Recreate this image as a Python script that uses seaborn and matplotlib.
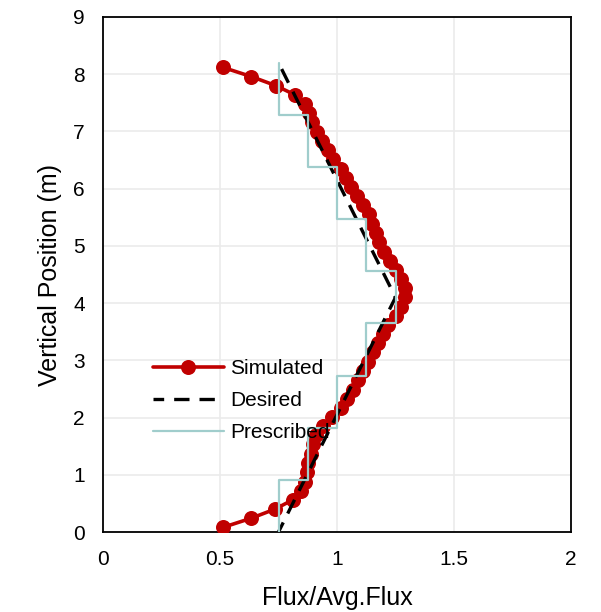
import matplotlib
matplotlib.use("Agg")
import matplotlib.pyplot as plt
import seaborn as sns
import pandas as pd

# ---- data ----
sim_y = [0.08, 0.24, 0.40, 0.56, 0.72, 0.88, 1.05, 1.21, 1.37, 1.53, 1.69, 1.85,
         2.01, 2.17, 2.33, 2.49, 2.65, 2.81, 2.97, 3.14, 3.30, 3.46, 3.62, 3.78,
         3.94, 4.10, 4.26, 4.42, 4.58, 4.74, 4.90, 5.07, 5.23, 5.39, 5.55, 5.71,
         5.87, 6.03, 6.19, 6.35, 6.51, 6.67, 6.83, 6.99, 7.16, 7.32, 7.48, 7.64,
         7.80, 7.96, 8.12]
sim_x = [0.512, 0.633, 0.735, 0.810, 0.848, 0.865, 0.872, 0.878, 0.888, 0.898, 0.912, 0.940,
         0.980, 1.015, 1.042, 1.068, 1.090, 1.110, 1.132, 1.155, 1.175, 1.195, 1.218, 1.250,
         1.275, 1.290, 1.290, 1.275, 1.250, 1.225, 1.200, 1.180, 1.165, 1.150, 1.135, 1.112,
         1.085, 1.060, 1.040, 1.015, 0.985, 0.960, 0.935, 0.915, 0.895, 0.880, 0.865, 0.820,
         0.739, 0.633, 0.512]

des_y = [0.0, 4.1, 8.2]
des_x = [0.75, 1.25, 0.75]

pres_bounds = [0.0, 0.911, 1.822, 2.733, 3.644, 4.556, 5.467, 6.378, 7.289, 8.2]
pres_levels = [0.75, 0.875, 1.0, 1.125, 1.25, 1.125, 1.0, 0.875, 0.75]

xticks = [0, 0.5, 1, 1.5, 2]
xticklabels = ["0", "0.5", "1", "1.5", "2"]
yticks = [0, 1, 2, 3, 4, 5, 6, 7, 8, 9]

# build step path for prescribed profile
px, py = [], []
for i, lv in enumerate(pres_levels):
    px += [lv, lv]
    py += [pres_bounds[i], pres_bounds[i + 1]]
df_sim = pd.DataFrame({"x": sim_x, "y": sim_y})
df_des = pd.DataFrame({"x": des_x, "y": des_y})
df_pre = pd.DataFrame({"x": px, "y": py})

sns.set_theme(style="white")
plt.rcParams["font.family"] = ["Liberation Sans", "DejaVu Sans"]

fig = plt.figure(figsize=(6.01, 6.12), dpi=100)
ax = fig.add_axes([103 / 601, 80 / 612, 468 / 601, 515 / 612])

RED = "#C00000"
TEAL = "#A0CDCC"

sns.lineplot(data=df_sim, x="x", y="y", sort=False, estimator=None, ax=ax,
             color=RED, lw=2.6, marker="o", markersize=10.8, markeredgewidth=0,
             label="Simulated", zorder=3)
sns.lineplot(data=df_des, x="x", y="y", sort=False, estimator=None, ax=ax,
             color="black", lw=2.4, linestyle=(9, (4.6, 3.0)),
             label="Desired", zorder=4)
sns.lineplot(data=df_pre, x="x", y="y", sort=False, estimator=None, ax=ax,
             color=TEAL, lw=1.6, label="Prescribed", zorder=5)

ax.set_xlim(0, 2)
ax.set_ylim(0, 9)
ax.set_xticks(xticks)
ax.set_xticklabels(xticklabels)
ax.set_yticks(yticks)
ax.grid(True, color="#EBEBEB", lw=1.2)
ax.set_axisbelow(True)
for s in ax.spines.values():
    s.set_color("black")
    s.set_linewidth(1.3)
ax.tick_params(axis="both", length=0, labelsize=15, colors="black", pad=13)
ax.set_xlabel("Flux/Avg.Flux", fontsize=18, color="black", labelpad=12)
ax.set_ylabel("Vertical Position (m)", fontsize=18, color="black", labelpad=8)

leg = ax.legend(loc="upper left", bbox_to_anchor=(153 / 601, 1 - 359 / 612),
                bbox_transform=fig.transFigure, frameon=False, fontsize=15,
                borderpad=0, borderaxespad=0, handlelength=3.4,
                handletextpad=0.3, labelspacing=0.63, numpoints=1)
for t in leg.get_texts():
    t.set_color("black")

fig.savefig("out.png", dpi=100)
